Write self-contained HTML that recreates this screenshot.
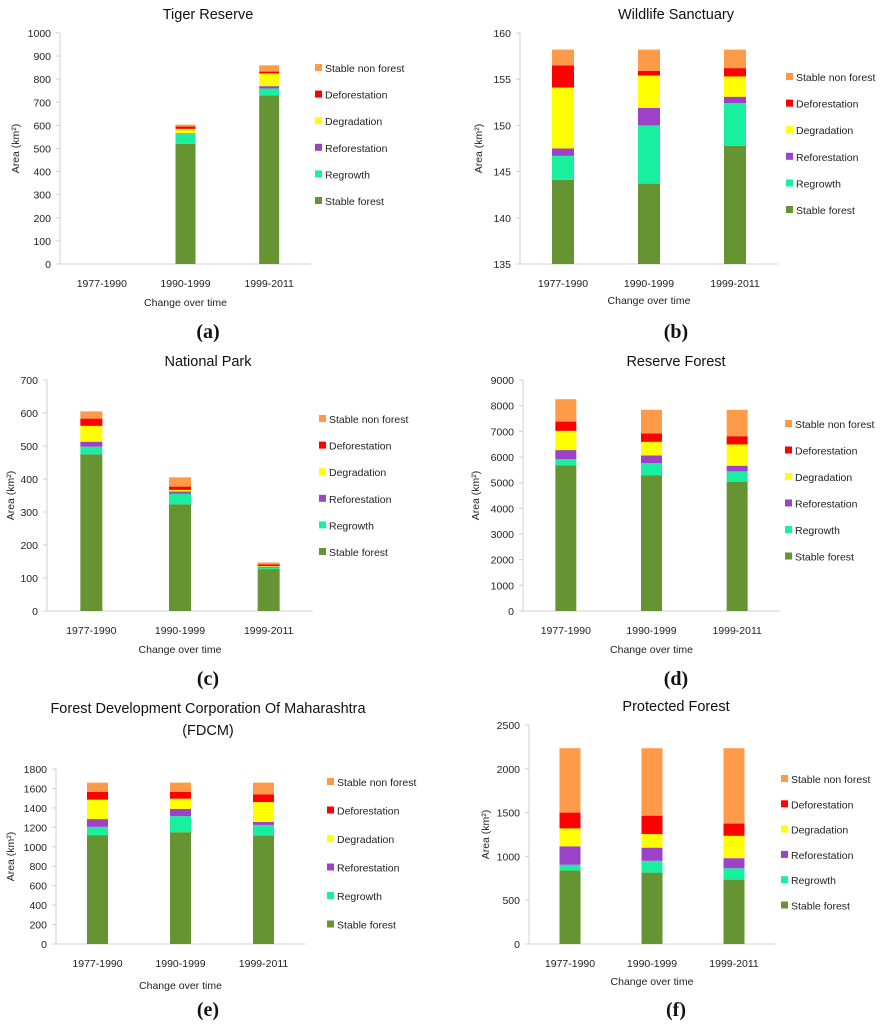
<!DOCTYPE html>
<html><head><meta charset="utf-8"><style>
html,body{margin:0;padding:0;background:#fff;}
svg{display:block;font-family:"Liberation Sans",sans-serif;}
</style></head><body>
<svg id="fig" width="882" height="1024" viewBox="0 0 882 1024" xmlns="http://www.w3.org/2000/svg"></svg>
<script>
const categories = ["1977-1990","1990-1999","1999-2011"];
const seriesNames = ["Stable forest","Regrowth","Reforestation","Degradation","Deforestation","Stable non forest"];
const seriesColors = ["#679432","#18f0a0","#9c42c8","#ffff00","#ff0000","#ff9a48"];

// (a) Tiger Reserve
const tigerStable = [0,520,730];
const tigerRegrowth = [0,42,30];
const tigerReforestation = [0,3,10];
const tigerDegradation = [0,20,55];
const tigerDeforestation = [0,10,8];
const tigerNonForest = [0,8,27];
const tigerTicks = [0,100,200,300,400,500,600,700,800,900,1000];
// (b) Wildlife Sanctuary
const wildStable = [144.1,143.7,147.8];
const wildRegrowth = [2.6,6.3,4.6];
const wildReforestation = [0.8,1.9,0.7];
const wildDegradation = [6.6,3.5,2.2];
const wildDeforestation = [2.4,0.5,0.9];
const wildNonForest = [1.7,2.3,2.0];
const wildTicks = [135,140,145,150,155,160];
// (c) National Park
const parkStable = [475,323,127];
const parkRegrowth = [23,32,5];
const parkReforestation = [15,7,2];
const parkDegradation = [48,5,2];
const parkDeforestation = [22,10,5];
const parkNonForest = [22,28,6];
const parkTicks = [0,100,200,300,400,500,600,700];
// (d) Reserve Forest
const reserveStable = [5680,5280,5040];
const reserveRegrowth = [240,480,400];
const reserveReforestation = [350,300,220];
const reserveDegradation = [750,530,830];
const reserveDeforestation = [360,330,320];
const reserveNonForest = [870,920,1030];
const reserveTicks = [0,1000,2000,3000,4000,5000,6000,7000,8000,9000];
// (e) FDCM
const fdcmStable = [1120,1150,1115];
const fdcmRegrowth = [85,165,110];
const fdcmReforestation = [80,75,30];
const fdcmDegradation = [200,105,205];
const fdcmDeforestation = [80,70,80];
const fdcmNonForest = [95,95,120];
const fdcmTicks = [0,200,400,600,800,1000,1200,1400,1600,1800];
// (f) Protected Forest
const protStable = [840,815,735];
const protRegrowth = [65,135,130];
const protReforestation = [210,150,115];
const protDegradation = [205,155,255];
const protDeforestation = [180,210,140];
const protNonForest = [735,770,860];
const protTicks = [0,500,1000,1500,2000,2500];

const NS="http://www.w3.org/2000/svg";
const svg=document.getElementById('fig');
function mk(tag,attrs,parent){const e=document.createElementNS(NS,tag);for(const k in attrs)e.setAttribute(k,attrs[k]);(parent||svg).appendChild(e);return e;}
function txt(s,attrs,parent){const e=mk('text',attrs,parent);e.textContent=s;return e;}

function panel(p){
  const g=mk('g',{});
  
  
  const yScale=v=>p.y0+(v-p.ticks[0])/(p.ticks[p.ticks.length-1]-p.ticks[0])*(p.y1-p.y0);
  const n=categories.length, step=(p.xr-p.xl)/n;
  const xScale=i=>p.xl+step*(i+0.5);
  p.title.forEach((t,k)=>{
    const e=txt(t,{x:p.tx,y:p.ty+k*22,'text-anchor':'middle','font-size':14.5,fill:'#111'},g);
    
    
  });
  const ya=mk('line',{x1:p.xl,x2:p.xl,y1:p.y0,y2:p.y1,stroke:'#d0d0d0','stroke-width':1},g);
  
  
  const xa=mk('line',{x1:p.xl-4,x2:p.xr,y1:p.y0,y2:p.y0,stroke:'#d0d0d0','stroke-width':1},g);
  
  
  p.ticks.forEach(t=>{
    const y=yScale(t);
    mk('line',{x1:p.xl-4,x2:p.xl,y1:y,y2:y,stroke:'#d0d0d0'},g);
    const e=txt(String(t),{x:p.xl-9,y:y+4,'text-anchor':'end','font-size':10.5,fill:'#222'},g);
    
    
  });
  for(let i=0;i<n;i++){
    let cum=0;
    p.series.forEach((s,k)=>{
      const lo=cum, hi=cum+s[i]; cum=hi;
      const a=Math.max(lo,p.ticks[0]), b=Math.max(hi,p.ticks[0]);
      if(b<=a) return;
      const r=mk('rect',{x:xScale(i)-p.bw/2,y:yScale(b),width:p.bw,height:yScale(a)-yScale(b),fill:seriesColors[k]},g);
      
      
    });
    const l=txt(categories[i],{x:xScale(i),y:p.y0+23,'text-anchor':'middle','font-size':10.5,fill:'#222'},g);
    
    
  }
  const xt=txt('Change over time',{x:(p.xl+p.xr)/2,y:p.cy,'text-anchor':'middle','font-size':10.5,fill:'#222'},g);
  
  
  const yt=txt('',{x:0,y:0,'text-anchor':'middle','font-size':10.5,fill:'#222',transform:`translate(${p.ytx},${(p.y0+p.y1)/2}) rotate(-90)`},g);
  yt.textContent='Area (km²)';
  
  
  for(let k=0;k<6;k++){
    const y=p.ly+k*p.ls, idx=5-k;
    const sq=mk('rect',{x:p.lx,y:y-4,width:7,height:7,fill:seriesColors[idx]},g);
    
    
    const lt=txt(seriesNames[idx],{x:p.lx+10,y:y+4,'font-size':10.5,fill:'#222'},g);
    
    
  }
  const cap=txt(p.cap,{x:p.tx,y:p.capy,'text-anchor':'middle','font-size':20,'font-weight':'bold','font-family':'Liberation Serif, serif',fill:'#111'},g);
  
  
}

panel({name:'tiger-reserve-chart',title:['Tiger Reserve'],tx:208,ty:19,ticks:tigerTicks,y0:264,y1:33,xl:60,xr:311,bw:20,
  series:[tigerStable,tigerRegrowth,tigerReforestation,tigerDegradation,tigerDeforestation,tigerNonForest],
  cy:306,ytx:19,lx:315,ly:68,ls:26.6,cap:'(a)',capy:338});
panel({name:'wildlife-sanctuary-chart',title:['Wildlife Sanctuary'],tx:676,ty:19,ticks:wildTicks,y0:264,y1:33,xl:520,xr:778,bw:22,
  series:[wildStable,wildRegrowth,wildReforestation,wildDegradation,wildDeforestation,wildNonForest],
  cy:304,ytx:482,lx:786,ly:77,ls:26.6,cap:'(b)',capy:338});
panel({name:'national-park-chart',title:['National Park'],tx:208,ty:366,ticks:parkTicks,y0:611,y1:380,xl:47,xr:313,bw:22,
  series:[parkStable,parkRegrowth,parkReforestation,parkDegradation,parkDeforestation,parkNonForest],
  cy:653,ytx:14,lx:319,ly:419,ls:26.6,cap:'(c)',capy:685});
panel({name:'reserve-forest-chart',title:['Reserve Forest'],tx:676,ty:366,ticks:reserveTicks,y0:611,y1:380,xl:523,xr:780,bw:21,
  series:[reserveStable,reserveRegrowth,reserveReforestation,reserveDegradation,reserveDeforestation,reserveNonForest],
  cy:653,ytx:479,lx:785,ly:424,ls:26.5,cap:'(d)',capy:685});
panel({name:'fdcm-chart',title:['Forest Development Corporation Of Maharashtra','(FDCM)'],tx:208,ty:713,ticks:fdcmTicks,y0:944,y1:769,xl:56,xr:305,bw:21,
  series:[fdcmStable,fdcmRegrowth,fdcmReforestation,fdcmDegradation,fdcmDeforestation,fdcmNonForest],
  cy:989,ytx:14,lx:327,ly:782,ls:28.5,cap:'(e)',capy:1016});
panel({name:'protected-forest-chart',title:['Protected Forest'],tx:676,ty:711,ticks:protTicks,y0:944,y1:725,xl:529,xr:775,bw:21,
  series:[protStable,protRegrowth,protReforestation,protDegradation,protDeforestation,protNonForest],
  cy:985,ytx:489,lx:781,ly:779,ls:25.3,cap:'(f)',capy:1016});
</script>
</body></html>
